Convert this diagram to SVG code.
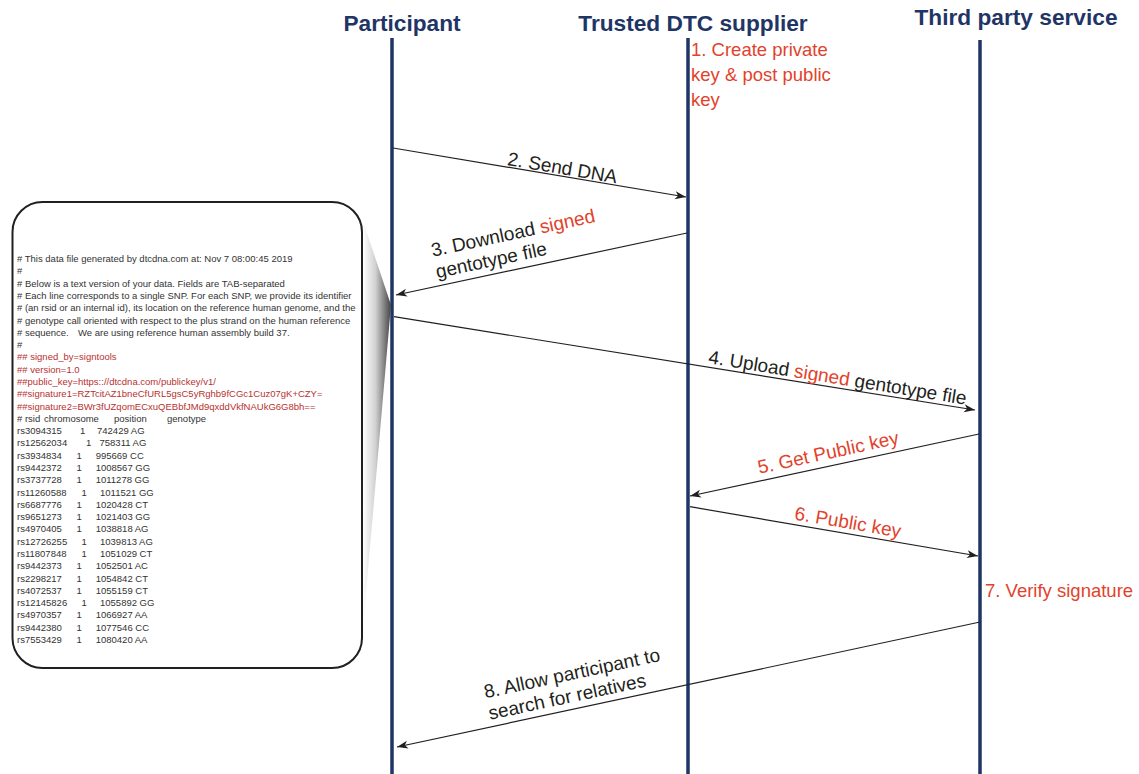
<svg xmlns="http://www.w3.org/2000/svg" width="1139" height="774" viewBox="0 0 1139 774">
<style>
.hdr{font-family:"Liberation Sans",Arial,sans-serif;font-weight:bold;font-size:22.7px;fill:#1f3566;text-anchor:middle}
.life{stroke:#1f3566;stroke-width:3.5;fill:none}
.msg{stroke:#231f20;stroke-width:1.2;fill:none;marker-end:url(#arr)}
.lbl{font-family:"Liberation Sans",Arial,sans-serif;font-size:19px;fill:#231f20}
.red{fill:#e2422b}
.note{font-family:"Liberation Sans",Arial,sans-serif;font-size:18.5px;fill:#e2422b}
.box{fill:#fff;stroke:#231f20;stroke-width:2}
.ft{font-family:"Liberation Sans",Arial,sans-serif;font-size:9.5px;fill:#333}
.fr{fill:#b8312f}
</style>
<defs>
<marker id="arr" markerUnits="userSpaceOnUse" markerWidth="14" markerHeight="10" viewBox="-12 -5 13 10" refX="0" refY="0" orient="auto">
<path d="M0,0 L-11,-4 L-8,0 L-11,4 Z" fill="#231f20"/>
</marker>
<linearGradient id="wedge" x1="0" y1="0" x2="1" y2="0">
<stop offset="0" stop-color="#ffffff"/>
<stop offset="0.45" stop-color="#d0d0d0"/>
<stop offset="1" stop-color="#444444"/>
</linearGradient>
</defs>
<rect width="1139" height="774" fill="#fff"/>

<g id="participant">
<line class="life" x1="392" y1="38" x2="392" y2="774"/>
<text class="hdr" x="402" y="31">Participant</text>
</g>
<g id="dtc-supplier">
<line class="life" x1="688" y1="38" x2="688" y2="774"/>
<text class="hdr" x="693" y="31">Trusted DTC supplier</text>
<text class="note"><tspan x="691" y="56">1. Create private</tspan><tspan x="691" y="81">key &amp; post public</tspan><tspan x="691" y="106">key</tspan></text>
</g>
<g id="third-party">
<line class="life" x1="980" y1="40" x2="980" y2="774"/>
<text class="hdr" x="1016" y="25">Third party service</text>
<text class="note" x="985" y="597">7. Verify signature</text>
</g>

<g id="data-file">
<polygon points="364,224 391,305 363,628" fill="url(#wedge)"/>
<rect class="box" x="12.5" y="202" width="349.5" height="466" rx="30" ry="30"/>
<g class="ft" xml:space="preserve">
<text x="17" y="262"># This data file generated by dtcdna.com at: Nov  7 08:00:45 2019</text>
<text x="17" y="274.3">#</text>
<text x="17" y="286.6"># Below is a text version of your data. Fields are TAB-separated</text>
<text x="17" y="298.9"># Each line corresponds to a single SNP.  For each SNP, we provide its identifier</text>
<text x="17" y="311.2"># (an rsid or an internal id), its location on the reference human genome, and the</text>
<text x="17" y="323.5"># genotype call oriented with respect to the plus strand on the human reference</text>
<text x="17" y="335.7"># sequence.<tspan x="78">We are using reference human assembly build 37.</tspan></text>
<text x="17" y="348">#</text>
<text class="fr" x="17" y="360.3">## signed_by=signtools</text>
<text class="fr" x="17" y="372.6">## version=1.0</text>
<text class="fr" x="17" y="384.9">##public_key=https:://dtcdna.com/publickey/v1/</text>
<text class="fr" x="17" y="397.2">##signature1=RZTcitAZ1bneCfURL5gsC5yRghb9fCGc1Cuz07gK+CZY=</text>
<text class="fr" x="17" y="409.5">##signature2=BWr3fUZqomECxuQEBbfJMd9qxddVkfNAUkG6G8bh==</text>
<text x="17" y="421.8"># rsid<tspan x="44">chromosome</tspan><tspan x="114">position</tspan><tspan x="167">genotype</tspan></text>
<text x="17" y="434.1">rs3094315<tspan x="80">1</tspan><tspan x="97">742429 AG</tspan></text>
<text x="17" y="446.4">rs12562034<tspan x="86">1</tspan><tspan x="99.5">758311 AG</tspan></text>
<text x="17" y="458.7">rs3934834<tspan x="76.5">1</tspan><tspan x="95.7">995669 CC</tspan></text>
<text x="17" y="470.9">rs9442372<tspan x="76.5">1</tspan><tspan x="95.7">1008567 GG</tspan></text>
<text x="17" y="483.2">rs3737728<tspan x="76.5">1</tspan><tspan x="95.7">1011278 GG</tspan></text>
<text x="17" y="495.5">rs11260588<tspan x="81.5">1</tspan><tspan x="100">1011521 GG</tspan></text>
<text x="17" y="507.8">rs6687776<tspan x="76.5">1</tspan><tspan x="95.7">1020428 CT</tspan></text>
<text x="17" y="520.1">rs9651273<tspan x="76.5">1</tspan><tspan x="95.7">1021403 GG</tspan></text>
<text x="17" y="532.4">rs4970405<tspan x="76.5">1</tspan><tspan x="95.7">1038818 AG</tspan></text>
<text x="17" y="544.7">rs12726255<tspan x="81.5">1</tspan><tspan x="100">1039813 AG</tspan></text>
<text x="17" y="557">rs11807848<tspan x="81.5">1</tspan><tspan x="100">1051029 CT</tspan></text>
<text x="17" y="569.3">rs9442373<tspan x="76.5">1</tspan><tspan x="95.7">1052501 AC</tspan></text>
<text x="17" y="581.6">rs2298217<tspan x="76.5">1</tspan><tspan x="95.7">1054842 CT</tspan></text>
<text x="17" y="593.9">rs4072537<tspan x="76.5">1</tspan><tspan x="95.7">1055159 CT</tspan></text>
<text x="17" y="606.1">rs12145826<tspan x="81.5">1</tspan><tspan x="100">1055892 GG</tspan></text>
<text x="17" y="618.4">rs4970357<tspan x="76.5">1</tspan><tspan x="95.7">1066927 AA</tspan></text>
<text x="17" y="630.7">rs9442380<tspan x="76.5">1</tspan><tspan x="95.7">1077546 CC</tspan></text>
<text x="17" y="643">rs7553429<tspan x="76.5">1</tspan><tspan x="95.7">1080420 AA</tspan></text>
</g>
</g>

<g id="connectors">
<line class="msg" x1="393" y1="148" x2="686" y2="197"/>
<line class="msg" x1="687" y1="233" x2="396" y2="295"/>
<line class="msg" x1="394" y1="316.7" x2="975" y2="410"/>
<line class="msg" x1="979" y1="434" x2="690" y2="496"/>
<line class="msg" x1="690" y1="506.7" x2="978" y2="556"/>
<line class="msg" x1="980" y1="622" x2="397" y2="747"/>
</g>

<g id="labels">
<text class="lbl" transform="translate(561,176.1) rotate(9.49)" x="0" y="-2" text-anchor="middle">2. Send DNA</text>
<text class="lbl" transform="translate(439,286) rotate(-12.03)"><tspan x="0" y="-30">3. Download <tspan class="red">signed</tspan></tspan><tspan x="0" y="-8">gentotype file</tspan></text>
<text class="lbl" transform="translate(836,387.9) rotate(9.17)" x="0" y="-4" text-anchor="middle">4. Upload <tspan class="red">signed</tspan> gentotype file</text>
<text class="lbl red" transform="translate(831,465.6) rotate(-12.15)" x="0" y="-7" text-anchor="middle">5. Get Public key</text>
<text class="lbl red" transform="translate(846,533.4) rotate(9.71)" x="0" y="-5" text-anchor="middle">6. Public key</text>
<text class="lbl" transform="translate(491.5,726.7) rotate(-12.1)"><tspan x="0" y="-29">8. Allow participant to</tspan><tspan x="0" y="-7">search for relatives</tspan></text>
</g>
</svg>
